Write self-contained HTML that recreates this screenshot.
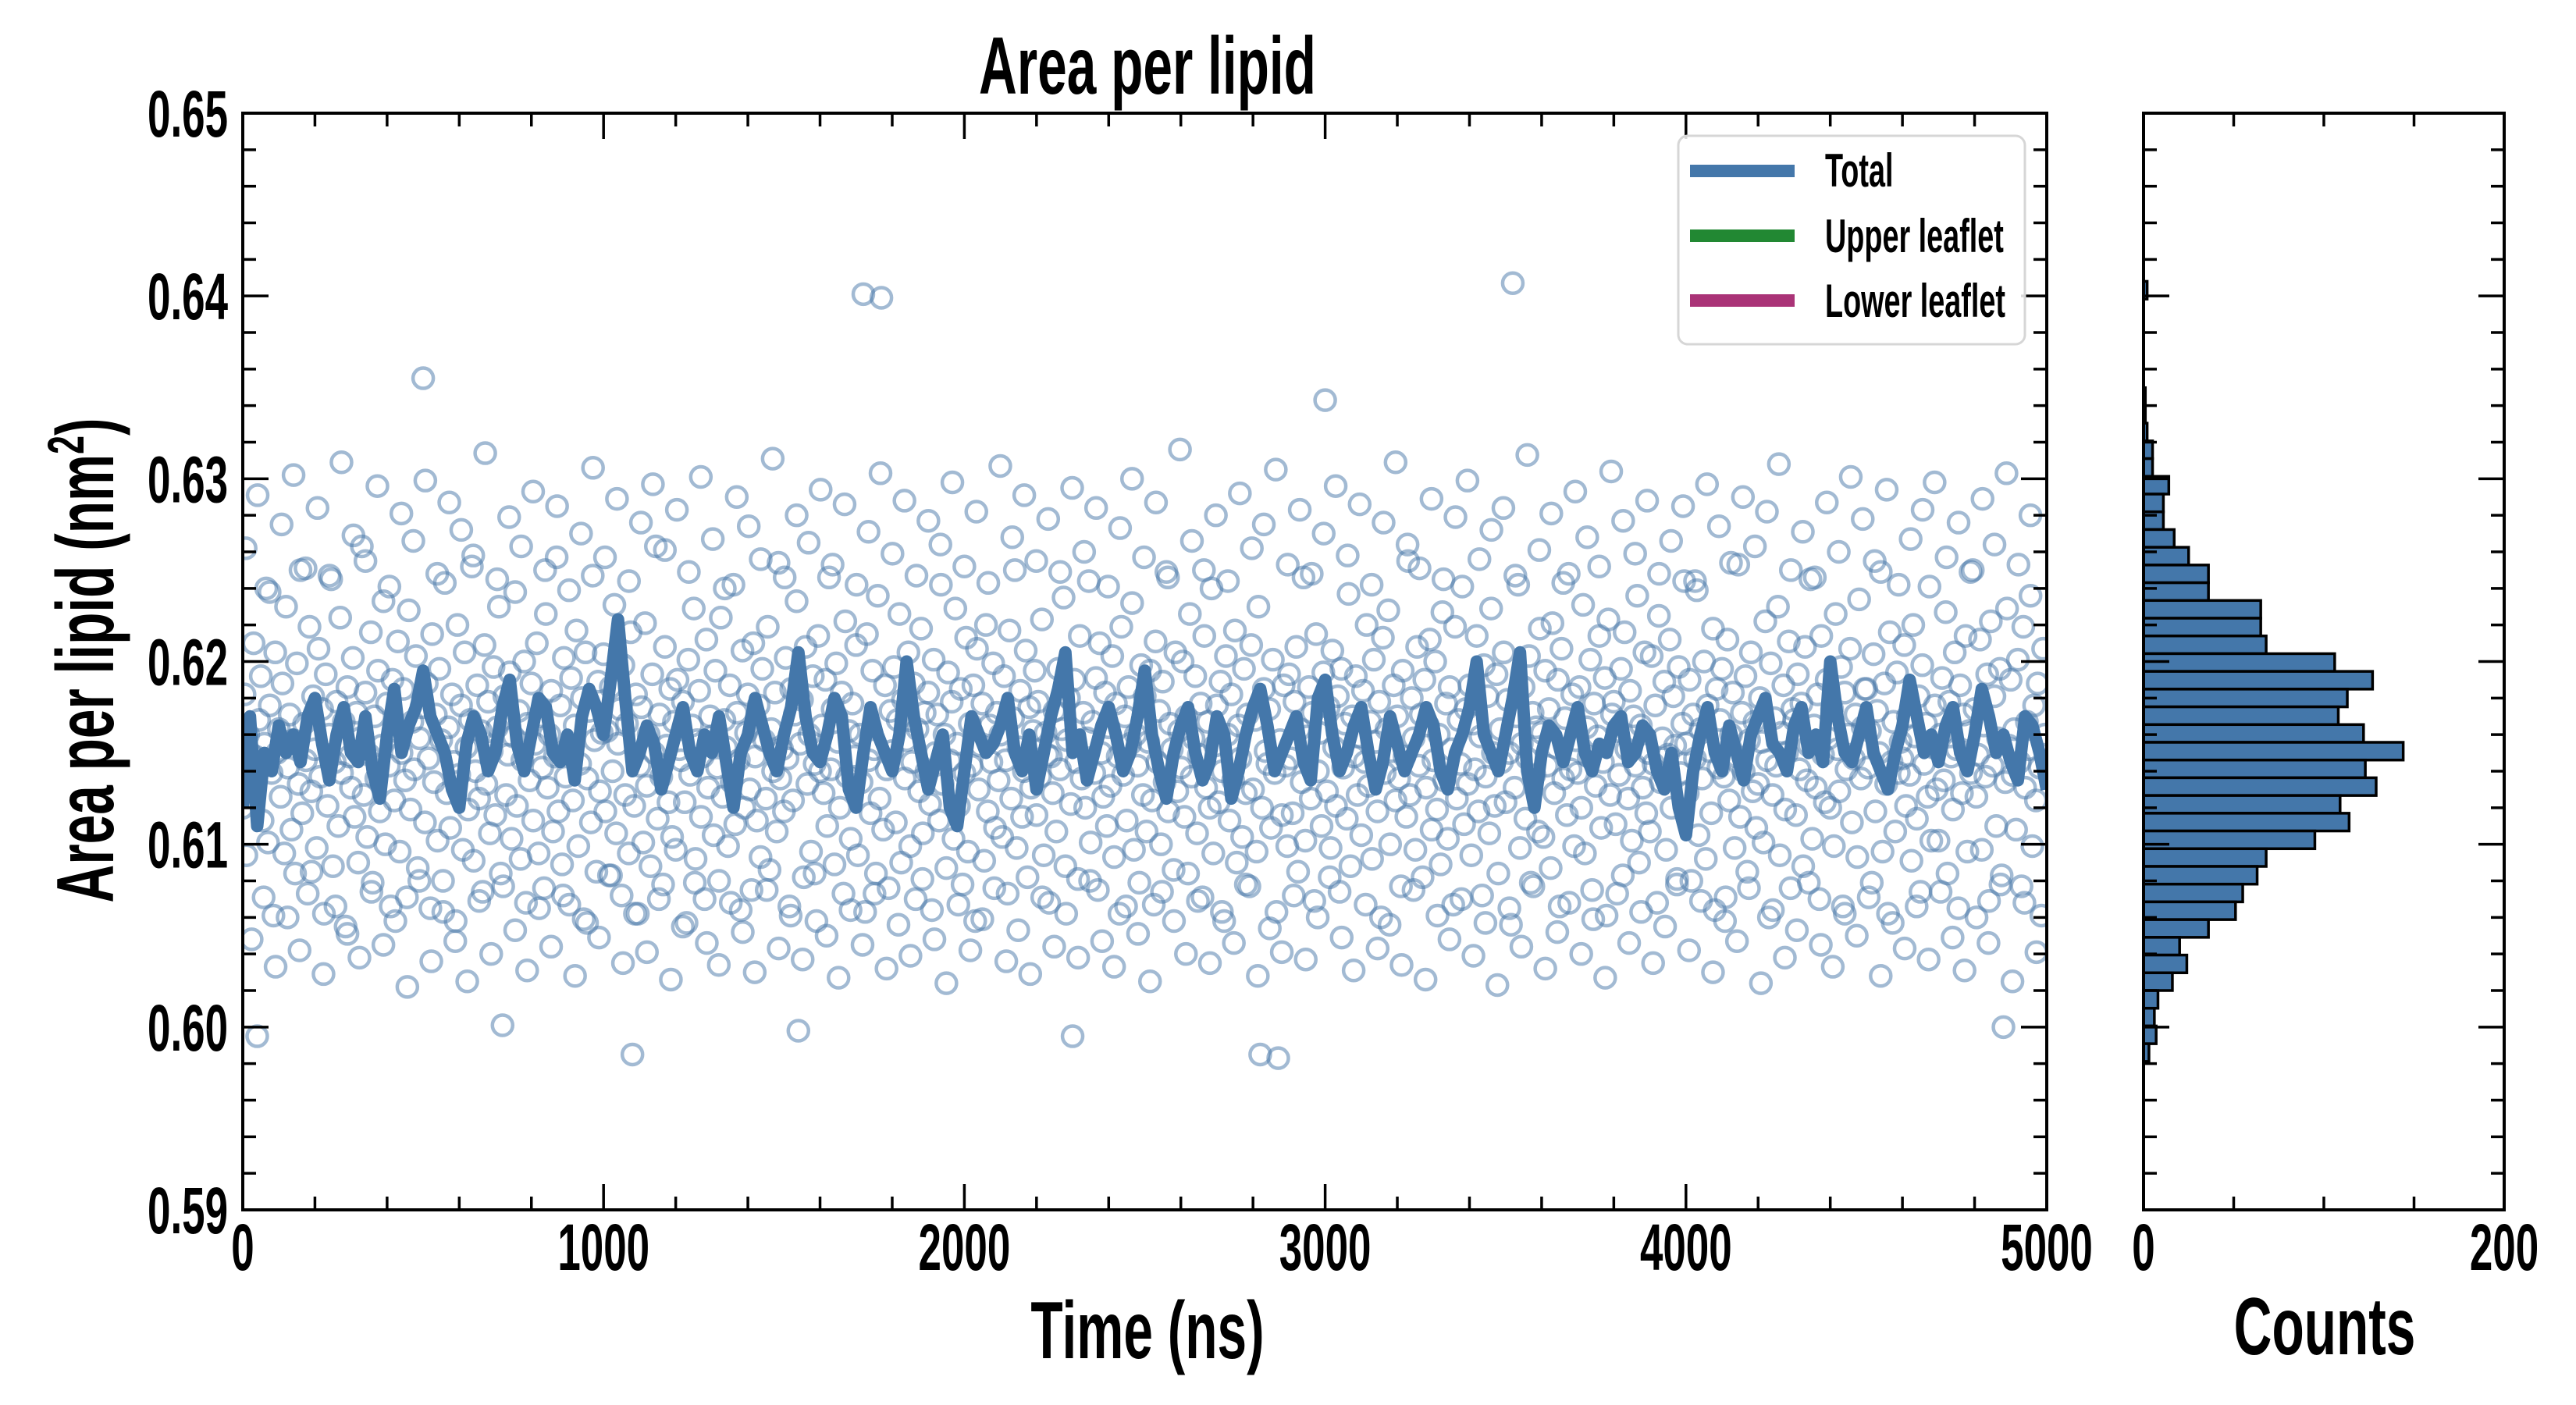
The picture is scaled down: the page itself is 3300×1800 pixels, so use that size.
<!DOCTYPE html>
<html><head><meta charset="utf-8"><style>
html,body{margin:0;padding:0;background:#fff;}
svg{display:block;}
text{font-family:"Liberation Sans Narrow","Liberation Sans",sans-serif;font-weight:bold;fill:#000;}
</style></head><body>
<svg id="chart" width="3300" height="1800" viewBox="0 0 3300 1800" xmlns="http://www.w3.org/2000/svg">
<defs><clipPath id="clipMain"><rect x="311" y="145" width="2311" height="1405"/></clipPath></defs>
<rect width="3300" height="1800" fill="#fff"/>
<g id="scatter" clip-path="url(#clipMain)"></g>
<g id="line" clip-path="url(#clipMain)"></g>
<g id="hist"></g>
<g id="axes"></g>
<g id="legend">
  <rect x="2150" y="174" width="444" height="267" rx="12" fill="#fff" fill-opacity="0.85" stroke="#d6d6d6" stroke-width="3"/>
  <rect x="2165" y="211" width="134" height="16" fill="#4477aa"/>
  <rect x="2165" y="294" width="134" height="16" fill="#228833"/>
  <rect x="2165" y="377" width="134" height="16" fill="#aa3377"/>
  <text transform="translate(2338,239) scale(0.63,1)" font-size="60">Total</text>
  <text transform="translate(2338,323) scale(0.63,1)" font-size="60">Upper leaflet</text>
  <text transform="translate(2338,406) scale(0.63,1)" font-size="60">Lower leaflet</text>
</g>
<text transform="translate(1470,120) scale(0.65,1)" font-size="104" text-anchor="middle">Area per lipid</text>
<text transform="translate(1470,1740) scale(0.65,1)" font-size="104" text-anchor="middle">Time (ns)</text>
<text transform="translate(2978,1735) scale(0.65,1)" font-size="104" text-anchor="middle">Counts</text>
<text transform="translate(145,846) rotate(-90) scale(0.65,1)" font-size="104" text-anchor="middle">Area per lipid (nm<tspan font-size="66" dy="-38">2</tspan><tspan dy="38">)</tspan></text>
</svg>
<script>
// ---- data ----
const yTicks = [0.59,0.60,0.61,0.62,0.63,0.64,0.65];
const yTickLabels = ["0.59","0.60","0.61","0.62","0.63","0.64","0.65"];
const xTicks = [0,1000,2000,3000,4000,5000];
const xTickLabels = ["0","1000","2000","3000","4000","5000"];
const histXTicks = [0,200];
const histXTickLabels = ["0","200"];
// scatter: (value-0.6)*10000, one sample every 5 ns
const rawValues = [
120,182,94,160,150,135,210,148,-5,168,192,113,155,240,101,176,139,61,205,150,
163,126,188,95,230,142,171,108,157,84,199,133,250,117,166,146,73,219,129,181,
152,98,207,137,174,62,193,121,160,245,88,145,178,110,224,139,167,55,186,148,
131,202,115,172,90,158,263,127,183,104,149,216,79,170,136,195,118,154,233,100,
177,143,66,190,124,162,211,96,150,185,135,71,228,119,167,141,203,87,158,175,
355,112,188,147,65,215,134,171,102,196,157,80,243,128,164,109,182,145,58,220,
138,176,97,205,153,119,168,252,91,140,187,125,162,74,209,133,178,106,151,197,
116,164,230,84,1,181,127,149,194,103,159,238,121,173,92,146,200,68,166,135,
188,113,155,210,95,170,142,76,226,131,160,184,107,148,257,118,176,89,202,137,
152,67,191,124,165,217,99,144,180,59,205,136,173,112,247,157,85,189,129,161,
204,118,162,83,186,140,231,106,155,174,72,198,127,166,95,216,-15,121,182,62,
143,175,101,221,132,160,88,193,150,263,114,171,137,78,208,154,123,185,104,167,
97,190,152,146,178,123,57,201,138,165,229,92,157,184,115,148,70,212,131,170,
159,105,195,142,80,224,126,168,153,99,187,134,242,111,172,146,64,206,120,161,
182,130,75,210,148,113,176,93,196,157,125,219,86,163,140,183,107,254,136,152,
118,202,147,66,185,124,171,233,-2,155,179,82,208,133,160,96,192,144,58,214,
140,165,128,190,110,246,141,174,89,199,156,120,183,73,222,137,162,103,177,148,
209,94,160,134,401,63,215,146,117,195,152,84,236,125,399,108,187,141,76,173,
151,197,112,168,226,90,179,136,157,205,99,145,188,70,163,129,218,106,172,140,
183,122,64,201,150,171,113,242,133,160,87,194,146,178,103,229,155,121,185,78,
139,213,96,166,143,187,58,207,130,154,177,91,220,118,165,145,199,109,172,135,
160,104,192,146,73,217,125,169,250,98,153,184,115,140,206,82,175,131,162,195,
116,178,137,223,94,161,149,68,148,128,173,107,196,141,163,235,88,157,180,122,
-5,190,145,81,214,136,172,120,158,244,101,167,139,191,75,210,150,126,183,110,
164,132,203,93,177,148,62,219,138,170,113,186,155,232,97,160,143,79,198,127,
181,107,156,195,124,67,211,145,173,100,189,134,249,118,166,152,86,205,129,162,
142,200,115,170,84,226,137,158,192,106,149,177,71,214,131,167,120,240,95,154,
176,123,189,140,58,203,160,113,182,135,217,90,165,147,104,196,128,171,77,209,
130,168,96,230,-15,120,185,151,144,174,109,201,139,63,-17,157,116,187,143,99,
193,147,117,178,208,85,163,134,246,102,159,186,125,172,69,215,140,161,110,194,
343,129,175,98,206,153,121,181,74,196,142,166,114,237,88,170,148,192,127,159,
105,184,145,220,132,167,92,201,156,118,178,60,213,139,163,228,100,151,187,124,
170,136,77,195,148,115,255,127,180,158,97,208,143,171,82,190,131,165,212,108,
146,200,119,160,89,227,135,177,103,186,152,67,219,125,168,144,241,111,174,133,
187,94,166,141,214,118,159,72,198,137,181,106,229,150,121,193,84,163,145,205,
123,179,150,56,407,131,170,242,98,155,186,114,147,203,79,172,138,164,107,218,
161,104,195,143,174,87,221,128,153,190,66,207,136,169,116,248,141,182,99,157,
139,186,120,231,95,164,148,201,75,177,132,159,214,109,145,191,61,223,127,171,
178,111,162,138,196,83,216,152,125,184,102,170,143,236,90,165,131,205,117,150,
107,203,144,176,68,225,134,158,189,97,149,212,120,181,154,78,197,139,166,244,
155,128,190,80,171,147,239,105,163,136,200,92,176,151,117,218,64,185,142,168,
196,137,71,212,124,160,183,98,148,253,115,172,140,192,85,157,205,129,167,109,
133,180,156,101,222,146,60,199,127,169,143,230,94,161,187,119,150,211,76,174,
168,116,193,141,177,88,208,135,154,245,103,165,131,182,70,214,149,123,190,158,
120,174,99,226,152,129,197,66,183,141,160,207,112,147,171,93,234,136,164,185,
185,142,162,79,204,118,173,150,249,96,188,133,62,216,145,167,107,194,139,156,
147,209,121,170,138,91,220,159,114,181,74,198,144,166,126,241,102,153,176,130,
102,160,191,135,227,84,178,148,119,205,152,65,187,128,171,214,96,162,139,250,
174,126,149,212,97,165,137,193,69,222,143,181,110,158,196,83,0,134,229,154,
190,138,163,108,201,145,77,219,131,167,152,236,99,176,124,188,142,61,207,160];
const rawStep = 5;
// additional samples in the tails, one every 16 ns starting at 8 ns
const tailValues = [
262,48,291,71,238,33,275,60,302,42,251,85,284,29,247,66,309,51,269,38,
255,74,296,45,241,58,281,22,266,80,299,36,248,63,287,47,272,25,258,69,
314,40,245,77,279,53,263,31,293,65,250,44,285,72,239,28,270,57,306,49,
257,83,289,35,244,62,276,41,297,70,261,26,283,55,249,79,301,46,267,34,
240,68,290,52,274,30,256,75,311,43,246,61,280,37,265,84,294,50,253,27,
286,64,242,45,271,73,303,32,259,56,288,39,247,81,277,48,264,24,298,67,
252,42,282,59,243,76,307,36,268,53,291,29,255,71,278,44,249,62,295,38,
260,80,284,47,241,33,273,66,300,51,257,25,287,74,246,58,316,40,266,69,
250,35,280,63,244,46,292,78,262,28,275,54,305,41,253,72,283,37,248,60,
270,82,296,49,258,31,286,67,242,43,276,56,309,34,264,75,251,26,289,61,
245,48,279,70,299,39,256,57,272,23,284,65,247,44,313,77,261,32,281,52,
243,68,293,40,268,59,252,27,304,73,277,46,259,63,288,35,248,55,266,81,
285,42,244,69,297,30,274,58,254,47,290,76,263,24,282,64,308,38,250,53,
271,79,246,45,287,33,260,62,301,50,278,71,255,28,294,57,242,43,267,66,
283,37,298,74,257,49,276,31,249,60,289,46,264,78,303,25,253,68,280,41];
const tailStart = 8;
const tailStep = 16.6;
// running average: (value-0.6)*10000, one point every 20 ns
const avgValues = [
120,170,110,150,140,165,150,160,145,170,180,155,135,160,175,150,145,170,140,125,
160,185,150,165,175,195,170,160,150,130,120,155,170,160,140,150,175,190,155,140,
160,180,175,150,145,160,135,170,185,175,160,190,223,180,140,150,165,155,130,145,
160,175,150,140,160,150,170,145,120,150,160,180,165,150,140,160,175,205,170,150,
145,160,180,170,130,120,150,175,160,150,140,160,200,170,150,130,145,160,120,110,
140,170,160,150,155,165,180,150,140,160,130,150,170,185,205,150,160,135,150,165,
175,160,140,150,170,195,160,140,125,150,165,175,150,135,145,170,160,125,140,160,
175,185,165,140,150,160,170,145,135,180,190,160,140,150,165,175,150,130,145,170,
155,140,150,160,175,165,140,130,150,160,175,200,160,150,140,160,180,205,140,120,
150,165,160,145,160,175,150,140,155,150,165,170,145,150,165,160,140,130,150,120,
105,140,160,175,150,140,165,150,135,160,170,180,155,150,140,165,175,150,160,145,
200,170,150,145,160,175,150,140,130,150,165,190,170,150,160,145,165,175,150,140,
160,185,170,150,160,145,135,170,165,150,130];
const avgStep = 20;
// histogram counts, from highest bin to lowest
const histCounts = [2,0,0,0,0,0,1,1,2,5,5,14,11,11,17,25,36,36,65,65,68,106,127,113,108,122,144,123,129,109,114,95,68,63,55,51,36,20,24,16,8,6,7,3];
const histTop = 0.6408;
const histBinWidth = 0.00097;

// ---- scales ----
const NS="http://www.w3.org/2000/svg";
const X0=311,X1=2622,Y0=1550,Y1=145,HX0=2746,HX1=3208;
const xS=t=>X0+(t-0)/(5000-0)*(X1-X0);
const yS=v=>Y0-(v-0.59)/(0.65-0.59)*(Y0-Y1);
const hS=c=>HX0+c/200*(HX1-HX0);
function mk(tag,attrs,parent){const e=document.createElementNS(NS,tag);for(const k in attrs)e.setAttribute(k,attrs[k]);parent.appendChild(e);return e;}

// scatter
const gS=document.getElementById('scatter');
rawValues.forEach((v,i)=>{
  const c=mk('circle',{cx:xS(i*rawStep),cy:yS(0.6+v/10000),r:13,fill:'none',stroke:'rgba(69,117,168,0.5)','stroke-width':4.5},gS);
  
  
});
tailValues.forEach((v,i)=>{
  const c=mk('circle',{cx:xS(tailStart+i*tailStep),cy:yS(0.6+v/10000),r:13,fill:'none',stroke:'rgba(69,117,168,0.5)','stroke-width':4.5},gS);
  
  
});
// running average
const gL=document.getElementById('line');
const pts=avgValues.map((v,i)=>xS(i*avgStep).toFixed(1)+','+yS(0.6+v/10000).toFixed(1)).join(' ');
const pl=mk('polyline',{points:pts,fill:'none',stroke:'#4477aa','stroke-width':16,'stroke-linejoin':'round'},gL);


// histogram
const gH=document.getElementById('hist');
histCounts.forEach((c,i)=>{
  if(c<=0)return;
  const top=histTop-i*histBinWidth, bot=top-histBinWidth;
  const r=mk('rect',{x:HX0,y:yS(top),width:hS(c)-HX0,height:yS(bot)-yS(top),fill:'#4477aa',stroke:'#000','stroke-width':3.5},gH);
  
  
});
// axes
const gA=document.getElementById('axes');
function frame(x0,x1,name){const r=mk('rect',{x:x0,y:Y1,width:x1-x0,height:Y0-Y1,fill:'none',stroke:'#000','stroke-width':4},gA);
  
  }
frame(X0,X1,'main-plot-frame');frame(HX0,HX1,'histogram-frame');
function line(x1,y1,x2,y2){mk('line',{x1,y1,x2,y2,stroke:'#000','stroke-width':3.5},gA);}
for(let k=0;k<=30;k++){
  const v=0.59+k*0.002, y=yS(v), L=(k%5===0)?33:17;
  [[X0,1],[X1,-1],[HX0,1],[HX1,-1]].forEach(([x,d])=>line(x,y,x+d*L,y));
}
yTicks.forEach((v,i)=>{
  const t=mk('text',{transform:`translate(292,${yS(v)+30}) scale(0.63,1)`,'font-size':84,'text-anchor':'end'},gA);
  t.textContent=yTickLabels[i];
  
  
});
for(let t=0;t<=5000;t+=200){const x=xS(t),L=(t%1000===0)?33:17;line(x,Y0,x,Y0-L);line(x,Y1,x,Y1+L);}
xTicks.forEach((v,i)=>{
  const t=mk('text',{transform:`translate(${xS(v)},1627) scale(0.63,1)`,'font-size':84,'text-anchor':'middle'},gA);
  t.textContent=xTickLabels[i];
  
  
});
for(let c=0;c<=200;c+=50){const x=hS(c),L=(c%200===0)?33:17;line(x,Y0,x,Y0-L);line(x,Y1,x,Y1+L);}
histXTicks.forEach((v,i)=>{
  const t=mk('text',{transform:`translate(${hS(v)},1627) scale(0.63,1)`,'font-size':84,'text-anchor':'middle'},gA);
  t.textContent=histXTickLabels[i];
  
  
});
</script>
</body></html>
